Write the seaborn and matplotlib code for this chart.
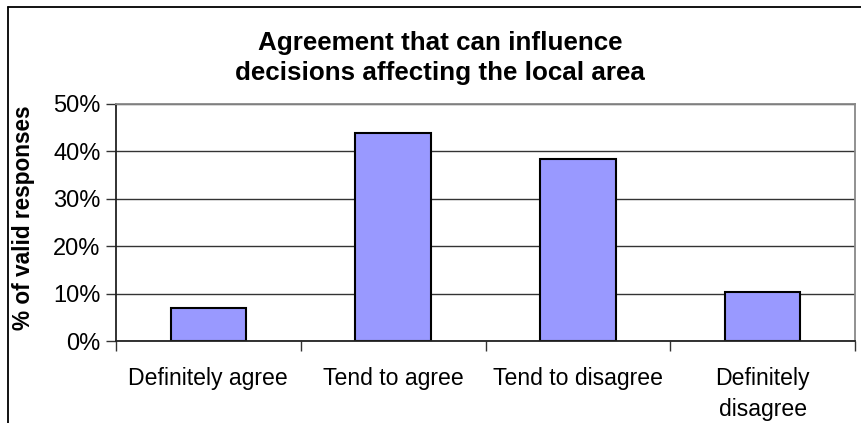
import pandas as pd
import seaborn as sns
import matplotlib.pyplot as plt
from matplotlib.lines import Line2D
from matplotlib.ticker import FuncFormatter, FixedLocator

# Data
categories = ["Definitely agree", "Tend to agree", "Tend to disagree", "Definitely\ndisagree"]
percent_valid = [7.0, 43.9, 38.5, 10.3]
yticks = [0, 10, 20, 30, 40, 50]

df = pd.DataFrame({"Response": categories, "Percent": percent_valid})

sns.set_style("white")
plt.rcParams["font.family"] = ["Liberation Sans", "DejaVu Sans"]
plt.rcParams["text.color"] = "black"
plt.rcParams["axes.labelcolor"] = "black"
plt.rcParams["xtick.color"] = "black"
plt.rcParams["ytick.color"] = "black"

fig = plt.figure(figsize=(8.61, 4.23), dpi=100)
ax = fig.add_axes([116 / 861, 1 - 341 / 423, (855 - 116) / 861, (341 - 104) / 423])

sns.barplot(data=df, x="Response", y="Percent", color="#9999FF", saturation=1,
            width=0.41, edgecolor="black", linewidth=1.5, ax=ax)

ax.set_xlim(-0.5, len(categories) - 0.5)
ax.set_ylim(0, 50)
ax.set_yticks(yticks)
ax.yaxis.set_major_formatter(FuncFormatter(lambda v, p: f"{v:.0f}%"))
ax.grid(axis="y", color="#333333", linewidth=1)
ax.set_axisbelow(True)

# category boundary ticks below the axis
ax.xaxis.set_minor_locator(FixedLocator([i - 0.5 for i in range(len(categories) + 1)]))
ax.tick_params(axis="x", which="major", length=0, pad=19, labelsize=16.6)
ax.tick_params(axis="x", which="minor", length=7, width=1, color="#333333", direction="out", bottom=True)
ax.tick_params(axis="y", length=7, width=1, color="#333333", direction="out", left=True, labelsize=17, pad=4)
ax.set_xticks(range(len(categories)))
ax.set_xticklabels(categories, linespacing=1.4)

for side in ["left", "bottom"]:
    ax.spines[side].set_color("#222222")
    ax.spines[side].set_linewidth(1.3)
for side in ["top", "right"]:
    ax.spines[side].set_visible(True)
    ax.spines[side].set_color("#888888")
    ax.spines[side].set_linewidth(1.3)

ax.set_xlabel("")
ax.set_ylabel("% of valid responses", fontsize=16.3, fontweight="bold")
ax.yaxis.set_label_coords(-0.1096, 0.52)

fig.text(440 / 861, 0.863, "Agreement that can influence\ndecisions affecting the local area",
         ha="center", va="center", fontsize=18.7, fontweight="bold", linespacing=1.28)

# outer chart frame (left and top only visible)
fig.add_artist(Line2D([8 / 861, 8 / 861], [0, 1 - 7 / 423], transform=fig.transFigure, color="black", linewidth=1.3))
fig.add_artist(Line2D([8 / 861, 1], [1 - 7 / 423, 1 - 7 / 423], transform=fig.transFigure, color="black", linewidth=1.3))

fig.savefig("out.png", dpi=100)
